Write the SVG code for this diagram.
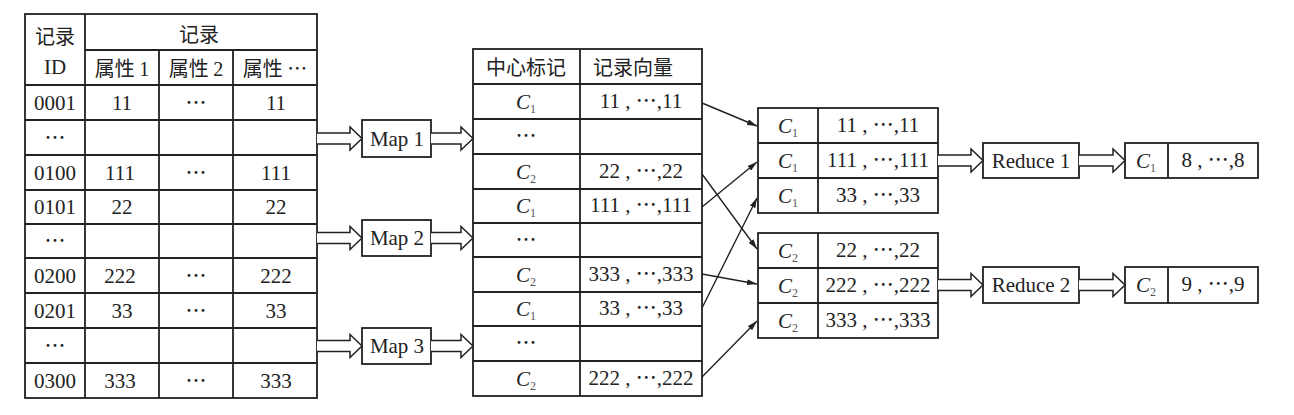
<svg xmlns="http://www.w3.org/2000/svg" width="1294" height="415" viewBox="0 0 1294 415">
<style>
.b{fill:#fff;stroke:#222;stroke-width:1.8}
.l{stroke:#222;stroke-width:1.8;fill:none}
.t{font-family:"Liberation Serif","Noto Sans CJK SC",serif;font-size:21px;fill:#222;text-anchor:middle}
.c{font-family:"Noto Sans CJK SC","Liberation Serif",sans-serif;font-size:20px;fill:#222;text-anchor:middle}
.i{font-style:italic}
.s{font-size:12px;fill:#555}
.da{fill:#fff;stroke:#222;stroke-width:1.5;stroke-linejoin:miter}
.ar{stroke:#222;stroke-width:1.4;fill:none;marker-end:url(#ah)}
</style>
<defs>
<marker id="ah" viewBox="0 0 10 6" refX="10" refY="3" markerWidth="10" markerHeight="6" markerUnits="userSpaceOnUse" orient="auto">
<path d="M0,0 L10,3 L0,6 Z" fill="#222"/>
</marker>
</defs>
<rect width="1294" height="415" fill="#fff"/>

<g id="records">
<rect class="b" x="25" y="14" width="292" height="384"/>
<path class="l" d="M85,14 V398 M159,50 V398 M233,50 V398 M85,50 H317 M25,85 H317 M25,120 H317 M25,155 H317 M25,190 H317 M25,224 H317 M25,258 H317 M25,293 H317 M25,328 H317 M25,363 H317"/>
<text class="c" x="55" y="44">记录</text>
<text class="t" x="55" y="74">ID</text>
<text class="c" x="199" y="42">记录</text>
<text class="c" x="122" y="76">属性 <tspan font-family="Liberation Serif">1</tspan></text>
<text class="c" x="196" y="76">属性 <tspan font-family="Liberation Serif">2</tspan></text>
<text class="c" x="275" y="76">属性 ⋯</text>
<text class="t" x="55" y="110">0001</text><text class="t" x="122" y="110">11</text><text class="t" x="196" y="110">⋯</text><text class="t" x="276" y="110">11</text>
<text class="t" x="55" y="145">⋯</text>
<text class="t" x="55" y="180">0100</text><text class="t" x="120" y="180">111</text><text class="t" x="196" y="180">⋯</text><text class="t" x="276" y="180">111</text>
<text class="t" x="55" y="214">0101</text><text class="t" x="122" y="214">22</text><text class="t" x="276" y="214">22</text>
<text class="t" x="55" y="248">⋯</text>
<text class="t" x="55" y="283">0200</text><text class="t" x="120" y="283">222</text><text class="t" x="196" y="283">⋯</text><text class="t" x="276" y="283">222</text>
<text class="t" x="55" y="318">0201</text><text class="t" x="122" y="318">33</text><text class="t" x="196" y="318">⋯</text><text class="t" x="276" y="318">33</text>
<text class="t" x="55" y="353">⋯</text>
<text class="t" x="55" y="388">0300</text><text class="t" x="120" y="388">333</text><text class="t" x="196" y="388">⋯</text><text class="t" x="276" y="388">333</text>
</g>

<g id="map1"><rect class="b" x="362" y="120" width="69" height="37"/><text class="t" x="397" y="146">Map 1</text></g>
<g id="map2"><rect class="b" x="362" y="220" width="69" height="36"/><text class="t" x="397" y="245">Map 2</text></g>
<g id="map3"><rect class="b" x="362" y="328" width="69" height="36"/><text class="t" x="397" y="353">Map 3</text></g>

<g id="mapped">
<rect class="b" x="473" y="49" width="229" height="347"/>
<path class="l" d="M580,49 V396 M473,84 H702 M473,119 H702 M473,154 H702 M473,189 H702 M473,223 H702 M473,257 H702 M473,292 H702 M473,326 H702 M473,361 H702"/>
<text class="c" x="526" y="75">中心标记</text>
<text class="c" x="633" y="75">记录向量</text>
<text class="t" x="526" y="109"><tspan class="i">C</tspan><tspan class="s" dy="4">1</tspan></text><text class="t" x="641" y="108">11 , ⋯,11</text>
<text class="t" x="526" y="143">⋯</text>
<text class="t" x="526" y="179"><tspan class="i">C</tspan><tspan class="s" dy="4">2</tspan></text><text class="t" x="641" y="178">22 , ⋯,22</text>
<text class="t" x="526" y="213"><tspan class="i">C</tspan><tspan class="s" dy="4">1</tspan></text><text class="t" x="641" y="212">111 , ⋯,111</text>
<text class="t" x="526" y="247">⋯</text>
<text class="t" x="526" y="282"><tspan class="i">C</tspan><tspan class="s" dy="4">2</tspan></text><text class="t" x="641" y="281">333 , ⋯,333</text>
<text class="t" x="526" y="316"><tspan class="i">C</tspan><tspan class="s" dy="4">1</tspan></text><text class="t" x="641" y="315">33 , ⋯,33</text>
<text class="t" x="526" y="350">⋯</text>
<text class="t" x="526" y="386"><tspan class="i">C</tspan><tspan class="s" dy="4">2</tspan></text><text class="t" x="641" y="385">222 , ⋯,222</text>
</g>

<g id="group1">
<rect class="b" x="758" y="108" width="180" height="105"/>
<path class="l" d="M818,108 V213 M758,143 H938 M758,178 H938"/>
<text class="t" x="788" y="133"><tspan class="i">C</tspan><tspan class="s" dy="4">1</tspan></text><text class="t" x="878" y="132">11 , ⋯,11</text>
<text class="t" x="788" y="168"><tspan class="i">C</tspan><tspan class="s" dy="4">1</tspan></text><text class="t" x="878" y="167">111 , ⋯,111</text>
<text class="t" x="788" y="203"><tspan class="i">C</tspan><tspan class="s" dy="4">1</tspan></text><text class="t" x="878" y="202">33 , ⋯,33</text>
</g>

<g id="group2">
<rect class="b" x="758" y="233" width="180" height="105"/>
<path class="l" d="M818,233 V338 M758,268 H938 M758,303 H938"/>
<text class="t" x="788" y="258"><tspan class="i">C</tspan><tspan class="s" dy="4">2</tspan></text><text class="t" x="878" y="257">22 , ⋯,22</text>
<text class="t" x="788" y="293"><tspan class="i">C</tspan><tspan class="s" dy="4">2</tspan></text><text class="t" x="878" y="292">222 , ⋯,222</text>
<text class="t" x="788" y="328"><tspan class="i">C</tspan><tspan class="s" dy="4">2</tspan></text><text class="t" x="878" y="327">333 , ⋯,333</text>
</g>

<g id="reduce1"><rect class="b" x="983" y="143" width="96" height="35"/><text class="t" x="1031" y="168">Reduce 1</text></g>
<g id="reduce2"><rect class="b" x="983" y="267" width="96" height="36"/><text class="t" x="1031" y="292">Reduce 2</text></g>

<g id="result1">
<rect class="b" x="1125" y="143" width="133" height="35"/>
<path class="l" d="M1168,143 V178"/>
<text class="t" x="1146" y="168"><tspan class="i">C</tspan><tspan class="s" dy="4">1</tspan></text><text class="t" x="1213" y="167">8 , ⋯,8</text>
</g>
<g id="result2">
<rect class="b" x="1125" y="267" width="133" height="36"/>
<path class="l" d="M1168,267 V303"/>
<text class="t" x="1146" y="292"><tspan class="i">C</tspan><tspan class="s" dy="4">2</tspan></text><text class="t" x="1213" y="291">9 , ⋯,9</text>
</g>

<g id="connectors">
<path class="da" d="M317,133 H350 V127 L362,138.5 L350,150 V144 H317"/>
<path class="da" d="M431,133 H461 V127 L473,138.5 L461,150 V144 H431"/>
<path class="da" d="M317,232.5 H350 V226.5 L362,238 L350,249.5 V243.5 H317"/>
<path class="da" d="M431,232.5 H461 V226.5 L473,238 L461,249.5 V243.5 H431"/>
<path class="da" d="M317,340.5 H350 V334.5 L362,346 L350,357.5 V351.5 H317"/>
<path class="da" d="M431,340.5 H461 V334.5 L473,346 L461,357.5 V351.5 H431"/>
<path class="da" d="M938,155 H971 V149 L983,160.5 L971,172 V166 H938"/>
<path class="da" d="M1079,155 H1113 V149 L1125,160.5 L1113,172 V166 H1079"/>
<path class="da" d="M938,279.5 H971 V273.5 L983,285 L971,296.5 V290.5 H938"/>
<path class="da" d="M1079,279.5 H1113 V273.5 L1125,285 L1113,296.5 V290.5 H1079"/>
<line class="ar" x1="702" y1="103" x2="757" y2="126"/>
<line class="ar" x1="702" y1="174" x2="757" y2="249"/>
<line class="ar" x1="702" y1="207" x2="757" y2="162"/>
<line class="ar" x1="702" y1="308" x2="757" y2="198"/>
<line class="ar" x1="702" y1="274" x2="757" y2="284"/>
<line class="ar" x1="702" y1="377" x2="757" y2="321"/>
</g>
</svg>
